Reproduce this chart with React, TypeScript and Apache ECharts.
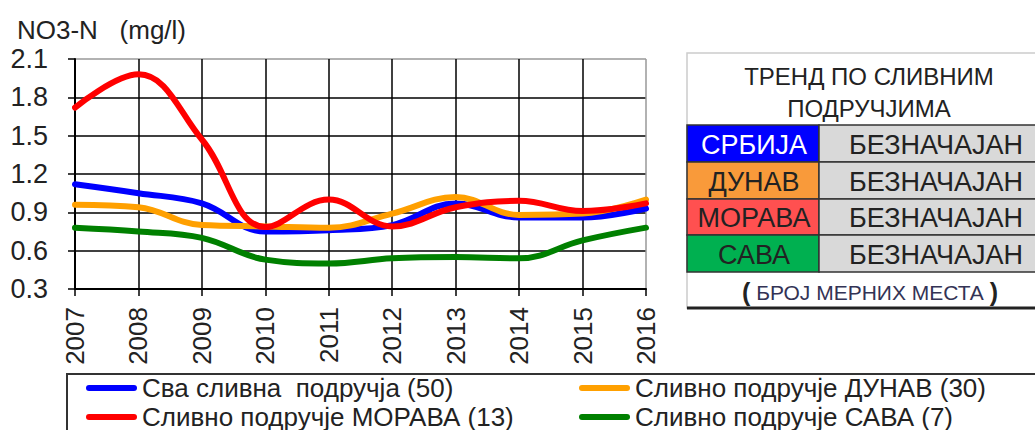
import React, { useEffect, useRef } from "react";
import * as echarts from "echarts";

const years = ["2007", "2008", "2009", "2010", "2011", "2012", "2013", "2014", "2015", "2016"];
const allBasins = [1.12, 1.05, 0.97, 0.75, 0.76, 0.8, 0.97, 0.86, 0.86, 0.93];
const danube = [0.96, 0.94, 0.8, 0.79, 0.78, 0.89, 1.02, 0.88, 0.89, 1.0];
const morava = [1.72, 1.98, 1.47, 0.785, 1.0, 0.79, 0.94, 0.99, 0.91, 0.97];
const sava = [0.78, 0.75, 0.7, 0.53, 0.5, 0.54, 0.55, 0.54, 0.68, 0.78];

const seriesNames = [
  "Сва сливна  подручја (50)",
  "Сливно подручје ДУНАВ (30)",
  "Сливно подручје МОРАВА (13)",
  "Сливно подручје САВА (7)",
];
const seriesColors = ["#0000ff", "#ffa000", "#ff0000", "#008000"];

const tableTitle = ["ТРЕНД ПО СЛИВНИМ", "ПОДРУЧЈИМА"];
const tableBasins = ["СРБИЈА", "ДУНАВ", "МОРАВА", "САВА"];
const tableTrends = ["БЕЗНАЧАЈАН", "БЕЗНАЧАЈАН", "БЕЗНАЧАЈАН", "БЕЗНАЧАЈАН"];
const tableColors = ["#0000ff", "#f99a3a", "#ff5050", "#00b050"];
const tableTextColors = ["#ffffff", "#222222", "#222222", "#222222"];
const tableFooter = "БРОЈ МЕРНИХ МЕСТА";

const FONT = "'Liberation Sans', Arial, sans-serif";

export default function App() {
  const ref = useRef<HTMLDivElement>(null);
  useEffect(() => {
    if (!ref.current) return;
    const chart = echarts.init(ref.current, undefined, { renderer: "svg" });

    const rowTop = [125, 162, 199, 235];
    const rowH = [37, 37, 36, 37];
    const tableEls: any[] = [];
    tableEls.push({
      type: "rect",
      shape: { x: 687, y: 53, width: 400, height: 255 },
      style: { fill: "#ffffff", stroke: "#cccccc", lineWidth: 1.5 },
    });
    tableTitle.forEach((t, i) => {
      tableEls.push({
        type: "text",
        x: 869,
        y: 76 + i * 32,
        style: { text: t, font: `24px ${FONT}`, fill: "#222", align: "center", verticalAlign: "middle" },
      });
    });
    tableBasins.forEach((b, i) => {
      tableEls.push({
        type: "rect",
        shape: { x: 687, y: rowTop[i], width: 132, height: rowH[i] },
        style: { fill: tableColors[i], stroke: "#333", lineWidth: 1.5 },
      });
      tableEls.push({
        type: "rect",
        shape: { x: 819, y: rowTop[i], width: 260, height: rowH[i] },
        style: { fill: "#d9d9d9", stroke: "#333", lineWidth: 1.5 },
      });
      tableEls.push({
        type: "text",
        x: 754,
        y: rowTop[i] + rowH[i] / 2 + 1,
        style: { text: b, font: `27px ${FONT}`, fill: tableTextColors[i], align: "center", verticalAlign: "middle" },
      });
      tableEls.push({
        type: "text",
        x: 936,
        y: rowTop[i] + rowH[i] / 2 + 1,
        style: { text: tableTrends[i], font: `27px ${FONT}`, fill: "#222", align: "center", verticalAlign: "middle" },
      });
    });
    tableEls.push({
      type: "text",
      x: 870,
      y: 292,
      style: {
        text: `{p|(} ${tableFooter} {p|)}`,
        font: `21px ${FONT}`,
        fill: "#333355",
        align: "center",
        verticalAlign: "middle",
        rich: { p: { fontSize: 25, fontWeight: "bold", fill: "#222", fontFamily: FONT } },
      },
    });
    tableEls.push({
      type: "line",
      shape: { x1: 687, y1: 308, x2: 1040, y2: 308 },
      style: { stroke: "#222", lineWidth: 3 },
    });

    const iconPath = "path://M3,0 H48 A3,3 0 0 1 48,6 H3 A3,3 0 0 1 3,0 Z";
    const legendBase = {
      orient: "vertical",
      top: 375,
      itemWidth: 51,
      itemHeight: 6,
      itemGap: 3,
      padding: 0,
      icon: iconPath,
      textStyle: { fontSize: 26, fontFamily: FONT, color: "#222", padding: [0, 0, 0, 0] },
    };

    const seriesData = [allBasins, danube, morava, sava];
    const drawOrder = [0, 3, 1, 2];

    chart.setOption({
      animation: false,
      backgroundColor: "#ffffff",
      title: {
        text: "NO3-N   (mg/l)",
        left: 17,
        top: 17,
        padding: 0,
        textStyle: { fontSize: 26, fontWeight: "normal", fontFamily: FONT, color: "#222" },
      },
      grid: { left: 75, top: 59, right: 389, bottom: 141 },
      legend: [
        { ...legendBase, left: 86, data: [seriesNames[0], seriesNames[2]] },
        { ...legendBase, left: 579, data: [seriesNames[1], seriesNames[3]] },
      ],
      xAxis: {
        type: "category",
        data: years,
        boundaryGap: false,
        axisLine: { show: true, lineStyle: { color: "#000", width: 2 } },
        axisTick: { show: true, length: 7, lineStyle: { color: "#000", width: 1.5 } },
        axisLabel: { rotate: 90, margin: 18, fontSize: 26, fontFamily: FONT, color: "#222" },
        splitLine: {
          show: true,
          lineStyle: {
            color: ["#000", "#000", "#000", "#000", "#000", "#000", "#000", "#000", "#000", "#999"],
            width: 1.5,
          },
        },
      },
      yAxis: {
        type: "value",
        min: 0.3,
        max: 2.1,
        interval: 0.3,
        axisLine: { show: true, lineStyle: { color: "#000", width: 2 } },
        axisTick: { show: true, length: 7, lineStyle: { color: "#000", width: 1.5 } },
        axisLabel: {
          margin: 27,
          fontSize: 27,
          fontFamily: FONT,
          color: "#222",
          formatter: (v: number) => v.toFixed(1),
        },
        splitLine: {
          show: true,
          lineStyle: { color: ["#000", "#000", "#000", "#000", "#000", "#000", "#999"], width: 1.5 },
        },
      },
      graphic: [
        {
          type: "rect",
          z: -1,
          shape: { x: 67, y: 374, width: 1000, height: 100 },
          style: { fill: "none", stroke: "#333", lineWidth: 2 },
        },
        ...tableEls,
      ],
      series: drawOrder.map((i) => ({
        name: seriesNames[i],
        type: "line",
        data: seriesData[i],
        smooth: 0.4,
        symbol: "none",
        color: seriesColors[i],
        lineStyle: { width: 6, color: seriesColors[i], cap: "round" },
      })),
    });
    return () => chart.dispose();
  }, []);
  return (
    <div
      ref={ref}
      style={{ position: "fixed", left: 0, top: 0, width: 1035, height: 430, background: "#fff" }}
    />
  );
}
